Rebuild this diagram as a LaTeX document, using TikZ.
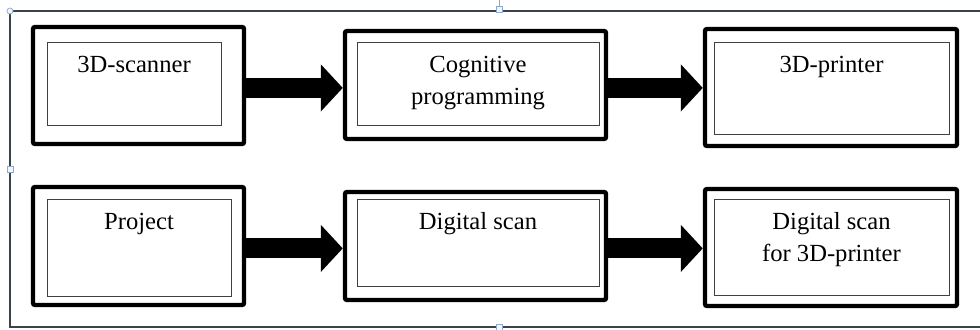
\documentclass[tikz,border=0pt]{standalone}
\usepackage{fontspec}
\setmainfont{Liberation Serif}
\usepackage{tikz}
\usetikzlibrary{arrows.meta}
\definecolor{framegray}{RGB}{58,66,76}
\definecolor{handleblue}{RGB}{140,170,205}

\begin{document}
\begin{tikzpicture}[x=0.025cm,y=-0.025cm,
    outerbox/.style={draw,line width=0.11cm,rounded corners=1.5pt,inner sep=0pt},
    innerbox/.style={draw,black!75,line width=0.6pt,inner sep=0pt},
    label/.style={anchor=north,yshift=-0.35cm,inner sep=0pt,align=center,
        font=\fontsize{17.5}{22.7}\selectfont},
    flow/.style={line width=0.5cm,-{Triangle[length=0.55cm,width=1.15cm]}},
    handle/.style={draw=handleblue,fill=blue!4,line width=0.5pt}]
            \useasboundingbox (0,0) rectangle (980,329);
            % frame
            \draw[framegray,line width=1.1pt] (980,11)--(10,11)--(10,327)--(980,327);
            \draw[handleblue,line width=0.5pt] (499,0)--(499,9);
            \draw[handle] (10,11) circle (3);
            \draw[handle] (496,6) rectangle (502,12);
            \draw[handle] (7,166) rectangle (13,172);
            \draw[handle] (496,324) rectangle (502,330);
            % top row
            \node[outerbox,minimum width=5.275cm,minimum height=2.925cm] (b1) at (138.5,85.5) {};
            \node[innerbox,minimum width=4.35cm,minimum height=2.075cm] (i1) at (134,83.5) {};
            \node[label] (t1) at (i1.north) {3D-scanner};
            \node[outerbox,minimum width=6.525cm,minimum height=2.7cm] (b2) at (475.5,85) {};
            \node[innerbox,minimum width=6.05cm,minimum height=2.075cm] (i2) at (478,83.5) {};
            \node[label] (t2) at (i2.north) {Cognitive\\programming};
            \node[outerbox,minimum width=6.3cm,minimum height=2.925cm] (b3) at (831,87.5) {};
            \node[innerbox,minimum width=5.875cm,minimum height=2.3cm] (i3) at (831.5,88) {};
            \node[label] (t3) at (i3.north) {3D-printer};
            % bottom row
            \node[outerbox,minimum width=5.275cm,minimum height=2.95cm] (b4) at (138.5,246) {};
            \node[innerbox,minimum width=4.6cm,minimum height=2.425cm] (i4) at (139,247.5) {};
            \node[label] (t4) at (i4.north) {Project};
            \node[outerbox,minimum width=6.525cm,minimum height=2.7cm] (b5) at (475.5,246) {};
            \node[innerbox,minimum width=6.05cm,minimum height=2.175cm] (i5) at (478,242.5) {};
            \node[label] (t5) at (i5.north) {Digital scan};
            \node[outerbox,minimum width=6.3cm,minimum height=2.925cm] (b6) at (831,247.5) {};
            \node[innerbox,minimum width=5.875cm,minimum height=2.4cm] (i6) at (831.5,247) {};
            \node[label] (t6) at (i6.north) {Digital scan\\for 3D-printer};
            % arrows
            \coordinate (a1) at ([yshift=-0.06cm]b1.east);
            \coordinate (a4) at ([yshift=-0.06cm]b4.east);
            \draw[flow] (a1)--(a1 -| b2.west);
            \draw[flow] (b2.east |- a1)--(a1 -| b3.west);
            \draw[flow] (a4)--(a4 -| b5.west);
            \draw[flow] (b5.east |- a4)--(a4 -| b6.west);
        \end{tikzpicture}
\end{document}
